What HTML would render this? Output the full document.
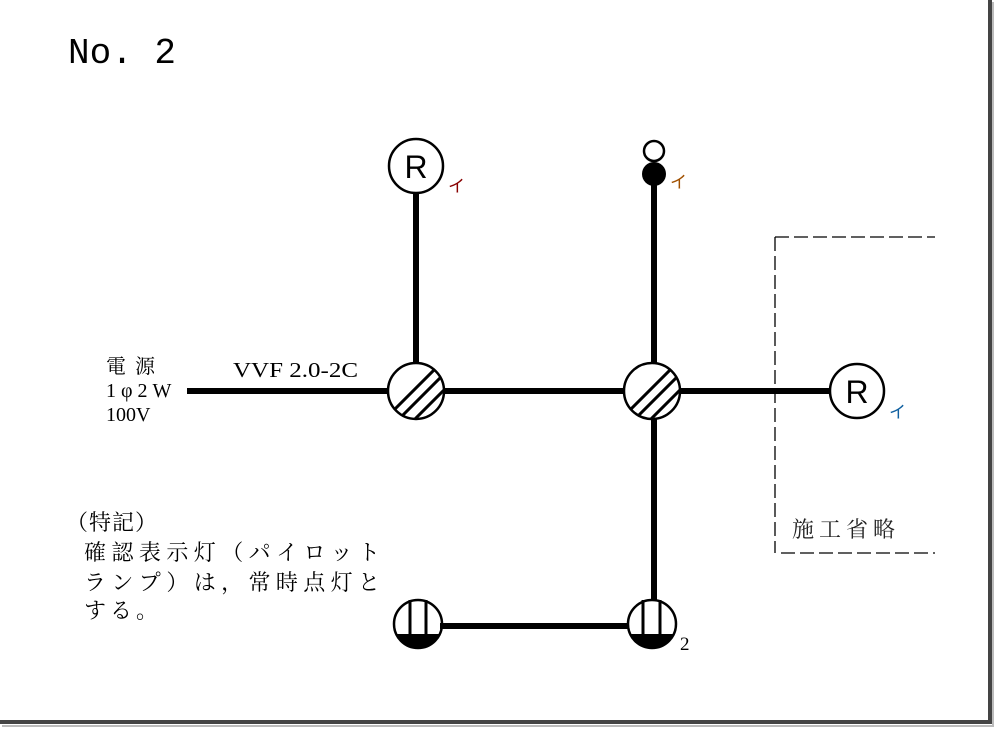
<!DOCTYPE html>
<html><head><meta charset="utf-8"><style>
html,body{margin:0;padding:0;background:#fff;}
svg{display:block;}
</style></head><body>
<svg width="994" height="729" viewBox="0 0 994 729" xmlns="http://www.w3.org/2000/svg">
<defs>
<clipPath id="c1"><circle cx="416" cy="391" r="27"/></clipPath>
<clipPath id="c2"><circle cx="652" cy="391" r="27"/></clipPath>
<clipPath id="o1"><circle cx="418" cy="624" r="24"/></clipPath>
<clipPath id="o2"><circle cx="652" cy="624" r="24"/></clipPath>
</defs>
<rect width="994" height="729" fill="#fff"/>
<line x1="990" y1="0" x2="990" y2="723" stroke="#444" stroke-width="4"/>
<line x1="0" y1="722" x2="992" y2="722" stroke="#444" stroke-width="4"/>
<line x1="993" y1="2" x2="993" y2="726" stroke="#bbb" stroke-width="2"/>
<line x1="2" y1="726" x2="994" y2="726" stroke="#bbb" stroke-width="2"/>

<text x="68" y="63" font-family="Liberation Mono, monospace" font-size="36" fill="#000" textLength="108" lengthAdjust="spacingAndGlyphs">No. 2</text>

<g stroke="#000" stroke-width="6" fill="none">
<line x1="187" y1="391" x2="390" y2="391"/>
<line x1="443" y1="391" x2="626" y2="391"/>
<line x1="678" y1="391" x2="830" y2="391"/>
<line x1="416" y1="193" x2="416" y2="364"/>
<line x1="654" y1="184" x2="654" y2="364"/>
<line x1="654" y1="418" x2="654" y2="600"/>
<line x1="440" y1="626" x2="628" y2="626"/>
</g>

<g fill="#fff" stroke="#000" stroke-width="2.5">
<circle cx="416" cy="391" r="28"/>
<circle cx="652" cy="391" r="28"/>
</g>
<g stroke="#000" stroke-width="3" clip-path="url(#c1)">
<line x1="376" y1="428" x2="448" y2="356"/>
<line x1="383" y1="435" x2="455" y2="363"/>
<line x1="391" y1="443" x2="463" y2="371"/>
</g>
<g stroke="#000" stroke-width="3" clip-path="url(#c2)">
<line x1="612" y1="428" x2="684" y2="356"/>
<line x1="619" y1="435" x2="691" y2="363"/>
<line x1="627" y1="443" x2="699" y2="371"/>
</g>

<g clip-path="url(#o1)"><rect x="390" y="634" width="60" height="30" fill="#000"/></g>
<g clip-path="url(#o2)"><rect x="624" y="634" width="60" height="30" fill="#000"/></g>
<g stroke="#000" stroke-width="3">
<line x1="410" y1="600" x2="410" y2="636"/>
<line x1="426" y1="600" x2="426" y2="636"/>
<line x1="643" y1="600" x2="643" y2="636"/>
<line x1="660" y1="600" x2="660" y2="636"/>
</g>
<circle cx="418" cy="624" r="24" fill="none" stroke="#000" stroke-width="2.5"/>
<circle cx="652" cy="624" r="24" fill="none" stroke="#000" stroke-width="2.5"/>
<text x="680" y="650" font-family="Liberation Serif, serif" font-size="19" fill="#000">2</text>

<circle cx="416" cy="166" r="27" fill="#fff" stroke="#000" stroke-width="2.5"/>
<text x="416" y="178" text-anchor="middle" font-family="Liberation Sans, sans-serif" font-size="32" fill="#000">R</text>
<text x="448" y="192" font-family="Liberation Sans, 'Noto Sans CJK JP', sans-serif" font-size="17" fill="#800">イ</text>

<circle cx="857" cy="391" r="27" fill="#fff" stroke="#000" stroke-width="2.5"/>
<text x="857" y="403" text-anchor="middle" font-family="Liberation Sans, sans-serif" font-size="32" fill="#000">R</text>
<text x="889" y="418" font-family="Liberation Sans, 'Noto Sans CJK JP', sans-serif" font-size="17" fill="#1060a0">イ</text>

<circle cx="654" cy="151" r="10" fill="#fff" stroke="#000" stroke-width="2.5"/>
<circle cx="654" cy="174" r="12" fill="#000"/>
<text x="670" y="188" font-family="Liberation Sans, 'Noto Sans CJK JP', sans-serif" font-size="17" fill="#a05000">イ</text>

<g stroke="#000" stroke-width="1.3" stroke-dasharray="14,5" fill="none">
<line x1="775" y1="237" x2="935" y2="237"/>
<line x1="775" y1="237" x2="775" y2="553"/>
<line x1="781" y1="553" x2="935" y2="553"/>
</g>
<text x="792" y="537" font-family="Liberation Serif, 'Noto Serif CJK SC', serif" font-size="22" fill="#222" letter-spacing="5">施工省略</text>

<g font-family="Liberation Serif, 'Noto Serif CJK SC', serif" font-size="20" fill="#000">
<text x="106" y="373" letter-spacing="2">電 源</text>
<text x="106" y="397">1 φ 2 W</text>
<text x="106" y="421">100V</text>
<text x="233" y="377" font-size="21" textLength="125" lengthAdjust="spacingAndGlyphs">VVF 2.0-2C</text>
</g>
<g font-family="Liberation Serif, 'Noto Serif CJK SC', serif" font-size="22" fill="#000">
<text x="66" y="530" letter-spacing="1">（特記）</text>
<text x="84" y="560" textLength="296" lengthAdjust="spacing">確認表示灯（パイロット</text>
<text x="84" y="590" textLength="296" lengthAdjust="spacing">ランプ）は，常時点灯と</text>
<text x="84" y="618" letter-spacing="4">する。</text>
</g>
</svg>
</body></html>
